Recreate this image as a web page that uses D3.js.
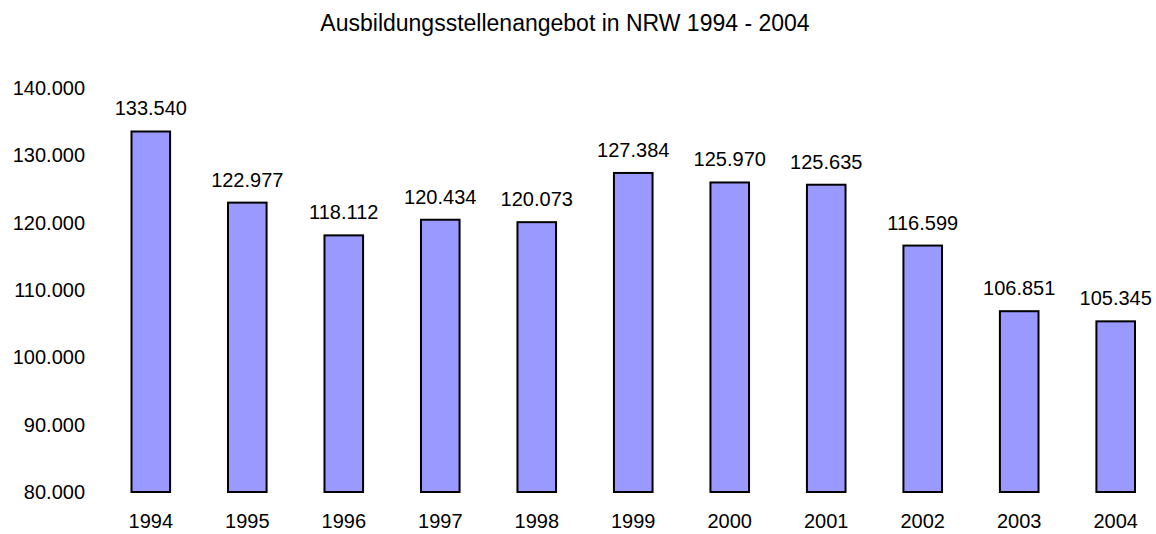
<!DOCTYPE html>
<html>
<head>
<meta charset="utf-8">
<script src="https://cdn.jsdelivr.net/npm/d3@7"></script>
<style>
  body { margin: 0; background: #fff; }
  text { font-family: "Liberation Sans", Arial, sans-serif; fill: #000; }
</style>
</head>
<body>
<div id="chart"></div>
<script>
const years = ['1994', '1995', '1996', '1997', '1998', '1999', '2000', '2001', '2002', '2003', '2004'];
const offers = [133540, 122977, 118112, 120434, 120073, 127384, 125970, 125635, 116599, 106851, 105345];
const yTicks = [80000, 90000, 100000, 110000, 120000, 130000, 140000];

const width = 1156, height = 534;
const svg = d3.select('#chart').append('svg')
    .attr('width', width)
    .attr('height', height);

// german number format: 133.540
const fmt = d3.formatLocale({decimal: ',', thousands: '.', grouping: [3], currency: ['', '€']}).format(',d');

const x = d3.scaleBand()
    .domain(years)
    .range([131.5, 1135])
    .paddingInner(0.6)
    .paddingOuter(0);
const y = d3.scaleLinear()
    .domain([80000, 140000])
    .range([492, 88]);

const data = years.map((yr, i) => ({year: yr, value: offers[i]}));

// title
svg.append('text')
    .attr('x', 565)
    .attr('y', 31)
    .attr('text-anchor', 'middle')
    .style('font-size', '23px')
    .text('Ausbildungsstellenangebot in NRW 1994 - 2004');

// y axis (labels only)
const yAxis = d3.axisLeft(y).tickValues(yTicks).tickFormat(fmt).tickSize(0).tickPadding(0);
const yg = svg.append('g').attr('transform', 'translate(85,0)').call(yAxis);
yg.select('.domain').remove();
yg.selectAll('text').style('font-size', '20px').attr('font-family', null);

// x axis (labels only)
const xAxis = d3.axisBottom(x).tickSize(0).tickPadding(0);
const xg = svg.append('g').attr('transform', 'translate(0,514)').call(xAxis);
xg.select('.domain').remove();
xg.selectAll('text').style('font-size', '20px').attr('font-family', null);

// bars
svg.selectAll('rect.bar')
    .data(data)
    .enter()
    .append('rect')
    .attr('class', 'bar')
    .attr('x', d => x(d.year))
    .attr('y', d => y(d.value))
    .attr('width', x.bandwidth())
    .attr('height', d => y(80000) - y(d.value))
    .attr('fill', '#9999ff')
    .attr('stroke', '#000')
    .attr('stroke-width', 2);

// value labels
svg.selectAll('text.val')
    .data(data)
    .enter()
    .append('text')
    .attr('class', 'val')
    .attr('x', d => x(d.year) + x.bandwidth() / 2)
    .attr('y', d => y(d.value) - 16)
    .attr('text-anchor', 'middle')
    .style('font-size', '20px')
    .text(d => fmt(d.value));
</script>
</body>
</html>
